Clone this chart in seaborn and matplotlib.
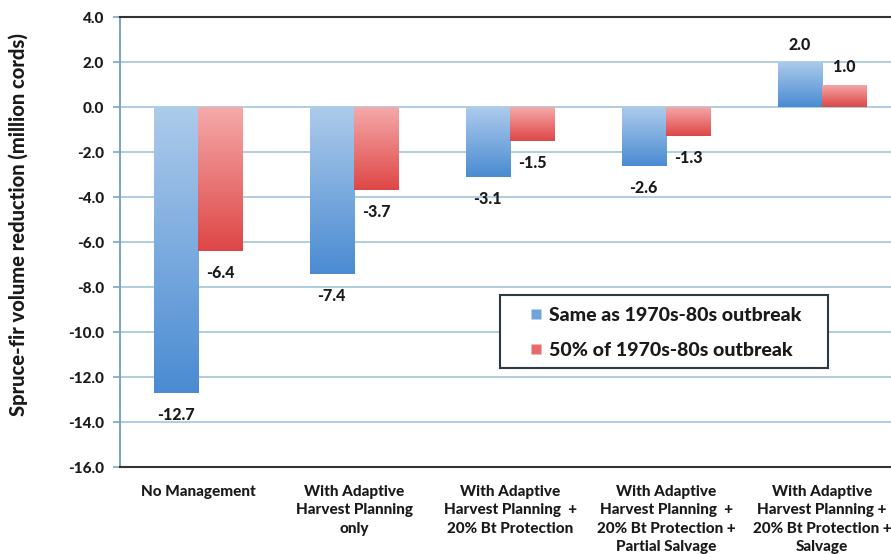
import matplotlib
matplotlib.use("Agg")
import matplotlib.pyplot as plt
import matplotlib.patches as mpatches
from matplotlib.lines import Line2D
from matplotlib.colors import LinearSegmentedColormap
import numpy as np
import pandas as pd
import seaborn as sns

categories = [
    "No Management",
    "With Adaptive\nHarvest Planning\nonly",
    "With Adaptive\nHarvest Planning  +\n20% Bt Protection",
    "With Adaptive\nHarvest Planning  +\n20% Bt Protection +\nPartial Salvage",
    "With Adaptive\nHarvest Planning +\n20% Bt Protection +\nSalvage",
]
series = ["Same as 1970s-80s outbreak", "50% of 1970s-80s outbreak"]
same_outbreak = [-12.7, -7.4, -3.1, -2.6, 2.0]
half_outbreak = [-6.4, -3.7, -1.5, -1.3, 1.0]
y_ticks = [4.0, 2.0, 0.0, -2.0, -4.0, -6.0, -8.0, -10.0, -12.0, -14.0, -16.0]

GRADIENTS = {
    series[0]: ("#adcbeb", "#4a8bd2"),
    series[1]: ("#f6aaaa", "#de4646"),
}
LEGEND_COLORS = {series[0]: "#6fa3dc", series[1]: "#e86a6a"}

df = pd.DataFrame({
    "category": categories * 2,
    "value": same_outbreak + half_outbreak,
    "series": [series[0]] * len(categories) + [series[1]] * len(categories),
})

sns.set_theme(style="white")
plt.rcParams["font.family"] = ["Lato", "DejaVu Sans"]
W = 900
TEXT = "#1a1a1a"

fig = plt.figure(figsize=(8.91, 5.54), dpi=100)
ax = fig.add_axes([0.1347, 0.157, 0.8653, 0.8123])

sns.barplot(
    data=df, x="category", y="value", hue="series",
    hue_order=series, order=categories,
    width=0.57, gap=0, palette=LEGEND_COLORS,
    legend=False, ax=ax, zorder=3,
)

# gradient fill for each bar, light at the top and darker at the bottom
bars = [p for p in ax.patches if isinstance(p, mpatches.Rectangle)]
values = same_outbreak + half_outbreak
for i, bar in enumerate(bars):
    s = series[i // len(categories)]
    cmap = LinearSegmentedColormap.from_list(s, [GRADIENTS[s][1], GRADIENTS[s][0]])
    x0, y0 = bar.get_x(), bar.get_y()
    w, h = bar.get_width(), bar.get_height()
    grad = np.linspace(0, 1, 256).reshape(-1, 1)
    im = ax.imshow(grad, cmap=cmap, origin="lower", aspect="auto",
                   extent=[x0, x0 + w, min(y0, y0 + h), max(y0, y0 + h)],
                   zorder=3)
    im.set_clip_path(bar)
    bar.set_facecolor("none")
    bar.set_edgecolor("none")

# value labels
for bar, v in zip(bars, values):
    cx = bar.get_x() + bar.get_width() / 2
    off = 12.5 if v > 0 else -16
    ax.annotate(f"{v:.1f}", (cx, v), xytext=(0, off), textcoords="offset points",
                ha="center", va="center", fontsize=11.5, fontweight=W, color=TEXT)

ax.set_ylim(-16, 4)
ax.set_xlim(-0.5, -0.5 + 771 / 156)
ax.set_yticks(y_ticks)
ax.set_yticklabels([f"{t:.1f}" for t in y_ticks])
ax.yaxis.grid(True, color="#a3c6da", linewidth=1.2, zorder=0)
ax.set_axisbelow(True)

ax.set_xlabel("")
ax.set_ylabel("Spruce-fir volume reduction (million cords)", fontsize=14.5,
              fontweight=W, color=TEXT)
ax.yaxis.set_label_coords(-0.119, 0.538)

ax.tick_params(axis="y", which="major", left=True, length=5, width=1.2,
               color="#7fa6bf", pad=6.5, labelsize=11, labelcolor=TEXT)
ax.tick_params(axis="x", bottom=False, pad=7, labelsize=11, labelcolor=TEXT)
for lab in ax.get_xticklabels():
    lab.set_fontweight(W)
    lab.set_linespacing(1.4)
    lab.set_va("top")
for lab in ax.get_yticklabels():
    lab.set_fontweight(W)

ax.spines["left"].set_color("#7fa6bf")
ax.spines["left"].set_linewidth(1.5)
ax.spines["bottom"].set_color("#333333")
ax.spines["bottom"].set_linewidth(1.5)
ax.spines["top"].set_color("#333333")
ax.spines["top"].set_linewidth(1.5)
ax.spines["right"].set_visible(False)

# legend box drawn separately so its size matches the reference
box = mpatches.Rectangle((0.4929, 0.22), 0.4254, 0.1622, transform=ax.transAxes,
                         facecolor="white", edgecolor="#2b3a42", linewidth=1.5,
                         zorder=5)
ax.add_patch(box)
handles = [Line2D([], [], marker="s", linestyle="none", markersize=7.5,
                  markerfacecolor=LEGEND_COLORS[s], markeredgecolor="none", label=s)
           for s in series]
leg = ax.legend(handles=handles, loc="center left", bbox_to_anchor=(0.5318, 0.298),
                frameon=False, fontsize=14, handlelength=0.6,
                handletextpad=0.36, borderpad=0, labelspacing=0.9,
                borderaxespad=0)
leg.set_zorder(6)
for t in leg.get_texts():
    t.set_fontweight(W)
    t.set_color(TEXT)

fig.savefig("out.png", dpi=100, facecolor="white")
